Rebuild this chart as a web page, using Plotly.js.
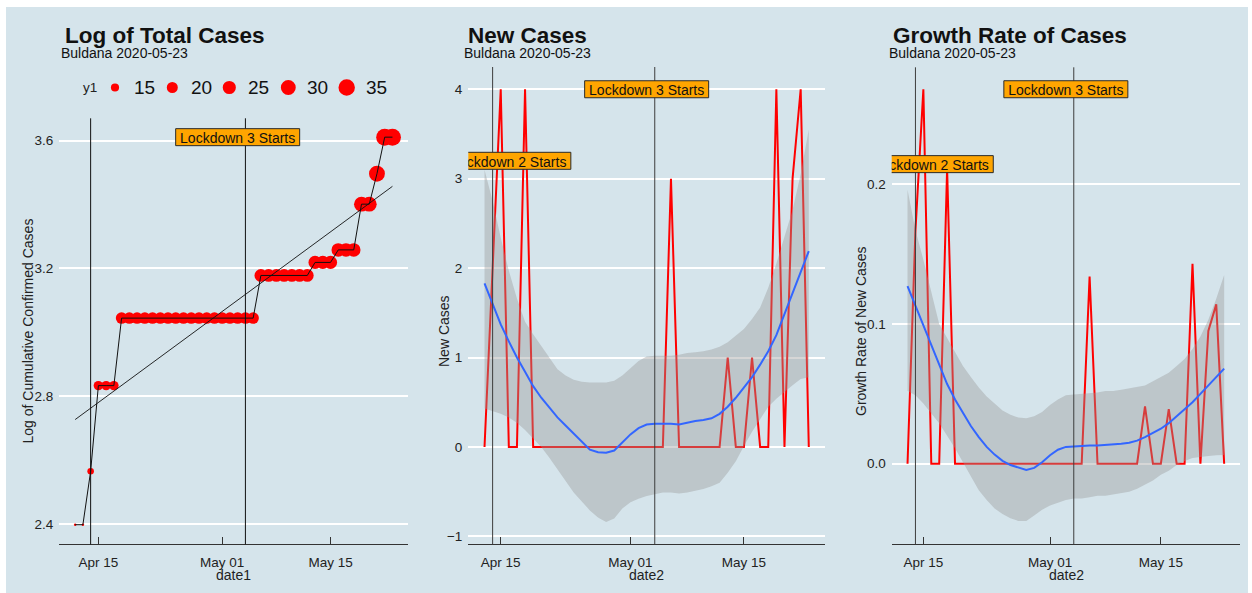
<!DOCTYPE html>
<html>
<head>
<meta charset="utf-8">
<script src="https://cdn.plot.ly/plotly-3.0.1.min.js"></script>
<style>
  html, body { margin: 0; padding: 0; background: #ffffff; }
  #chart { width: 1252px; height: 593px; }
</style>
</head>
<body>
<div id="chart"></div>
<script>
// ---- Buldana district, COVID-19, reported up to 2020-05-23 ----

// Cumulative confirmed cases (y1), one value per day from 2020-04-12
const totalDates = [
  '2020-04-12','2020-04-13','2020-04-14','2020-04-15','2020-04-16','2020-04-17','2020-04-18',
  '2020-04-19','2020-04-20','2020-04-21','2020-04-22','2020-04-23','2020-04-24','2020-04-25',
  '2020-04-26','2020-04-27','2020-04-28','2020-04-29','2020-04-30','2020-05-01','2020-05-02',
  '2020-05-03','2020-05-04','2020-05-05','2020-05-06','2020-05-07','2020-05-08','2020-05-09',
  '2020-05-10','2020-05-11','2020-05-12','2020-05-13','2020-05-14','2020-05-15','2020-05-16',
  '2020-05-17','2020-05-18','2020-05-19','2020-05-20','2020-05-21','2020-05-22','2020-05-23'
];
const totalCases = [
  11, 11, 13, 17, 17, 17, 21,
  21, 21, 21, 21, 21, 21, 21,
  21, 21, 21, 21, 21, 21, 21,
  21, 21, 21, 24, 24, 24, 24,
  24, 24, 24, 25, 25, 25, 26,
  26, 26, 30, 30, 33, 37, 37
];

// Daily series (date2), from 2020-04-13
const dailyDates = totalDates.slice(1);
const newCases = [
  0, 2, 4, 0, 0, 4,
  0, 0, 0, 0, 0, 0, 0, 0, 0, 0, 0, 0, 0, 0, 0, 0, 0,
  3, 0, 0, 0, 0, 0, 0,
  1, 0, 0, 1, 0, 0, 4, 0, 3, 4, 0
];
const growthRate = [
  0, 0.167, 0.268, 0, 0, 0.211,
  0, 0, 0, 0, 0, 0, 0, 0, 0, 0, 0, 0, 0, 0, 0, 0, 0,
  0.134, 0, 0, 0, 0, 0, 0,
  0.041, 0, 0, 0.039, 0, 0, 0.143, 0, 0.095, 0.114, 0
];

// Loess fit of new cases, with its confidence band
const newFit = [
  1.83, 1.60, 1.37, 1.18, 1.00, 0.84, 0.68, 0.55, 0.44, 0.33,
  0.24, 0.15, 0.05, -0.03, -0.06, -0.065, -0.04, 0.05, 0.14, 0.21,
  0.25, 0.26, 0.26, 0.26, 0.25, 0.27, 0.29, 0.30, 0.32, 0.37,
  0.45, 0.55, 0.66, 0.78, 0.92, 1.07, 1.25, 1.48, 1.72, 1.96, 2.19
];
const newUpper = [
  3.10, 2.75, 2.34, 1.97, 1.66, 1.40, 1.26, 1.13, 0.99, 0.87,
  0.80, 0.75, 0.73, 0.72, 0.72, 0.72, 0.74, 0.80, 0.88, 0.96,
  1.01, 1.02, 1.02, 1.02, 1.03, 1.05, 1.06, 1.07, 1.09, 1.12,
  1.17, 1.24, 1.32, 1.43, 1.56, 1.78, 2.05, 2.35, 2.65, 3.05, 3.55
];
const newLower = [
  0.43, 0.40, 0.37, 0.33, 0.27, 0.19, 0.10, 0.00, -0.12, -0.25,
  -0.38, -0.51, -0.61, -0.71, -0.79, -0.84, -0.80, -0.69, -0.62, -0.58,
  -0.55, -0.53, -0.51, -0.51, -0.52, -0.51, -0.49, -0.47, -0.44, -0.40,
  -0.29, -0.16, 0.01, 0.17, 0.31, 0.45, 0.54, 0.62, 0.69, 0.76, 0.78
];

// Loess fit of the growth rate, with its confidence band
const rateFit = [
  0.127, 0.113, 0.099, 0.085, 0.070, 0.057, 0.046, 0.036, 0.027, 0.019,
  0.012, 0.0065, 0.002, -0.001, -0.003, -0.0045, -0.003, 0.001, 0.006, 0.010,
  0.012, 0.0125, 0.0126, 0.013, 0.013, 0.0133, 0.0138, 0.0143, 0.015, 0.0165,
  0.019, 0.022, 0.025, 0.029, 0.034, 0.039, 0.044, 0.050, 0.056, 0.062, 0.068
];
const rateUpper = [
  0.196, 0.167, 0.146, 0.124, 0.100, 0.090, 0.080, 0.070, 0.062, 0.0545,
  0.048, 0.043, 0.038, 0.035, 0.033, 0.0325, 0.034, 0.037, 0.042, 0.046,
  0.049, 0.0495, 0.050, 0.050, 0.051, 0.052, 0.052, 0.053, 0.054, 0.055,
  0.056, 0.059, 0.062, 0.065, 0.070, 0.075, 0.082, 0.091, 0.103, 0.118, 0.135
];
const rateLower = [
  0.052, 0.049, 0.043, 0.036, 0.029, 0.020, 0.011, 0.001, -0.009, -0.019,
  -0.026, -0.032, -0.036, -0.039, -0.041, -0.041, -0.037, -0.033, -0.030, -0.028,
  -0.026, -0.025, -0.025, -0.024, -0.023, -0.023, -0.022, -0.021, -0.020, -0.018,
  -0.015, -0.012, -0.008, -0.005, -0.001, 0.002, 0.004, 0.005, 0.0055, 0.006, 0.0062
];

// Straight-line trend through the log of total cases (end points)
const trendDates = ['2020-04-12', '2020-05-23'];
const trendLog = [2.727, 3.457];

// Lockdown events
const lockdownDates = ['2020-04-14', '2020-05-04'];
const lockdown2LabelDate = '2020-04-16';
const lockdown3LabelDate = '2020-05-03';

// Axis ticks
const dateTicks = ['2020-04-15', '2020-05-01', '2020-05-15'];
const dateTickText = ['Apr 15', 'May 01', 'May 15'];
const logTicks = [2.4, 2.8, 3.2, 3.6];
const newTicks = [-1, 0, 1, 2, 3, 4];
const rateTicks = [0.0, 0.1, 0.2];
const sizeLegendValues = [15, 20, 25, 30, 35];

// ---- drawing ----
const W = 1252, H = 593;
const FONT = 'Liberation Sans, Arial, Helvetica, sans-serif';
const BG = '#d5e4eb';
const TXT = '#222222';
const DAY = 86400000;

const logTotal = totalCases.map(v => Math.log(v));
const sizeMin = Math.min(...totalCases), sizeMax = Math.max(...totalCases);
// area-style size scale for the points
const sizeOf = v => 2.5 + 14.5 * Math.sqrt(Math.max(0, v - sizeMin) / (sizeMax - sizeMin));

const px = x => x / W;
const py = y => 1 - y / H;
const ms = d => new Date(d.replace(' ', 'T') + (d.length > 10 ? ':00Z' : 'T00:00:00Z')).getTime();

// panel frames in page pixels, with their data ranges
const panels = {
  p1: { xa: 'x',  ya: 'y',  left: 59.3,  right: 408.3, top: 118.3, bottom: 544.3,
        xr: ['2020-04-09 22:48', '2020-05-25 01:12'], yr: [2.3365, 3.670] },
  p2: { xa: 'x2', ya: 'y2', left: 468.3, right: 825,   top: 67,    bottom: 544.3,
        xr: ['2020-04-11', '2020-05-25'], yr: [-1.089, 4.249] },
  p3: { xa: 'x3', ya: 'y3', left: 891.7, right: 1240,  top: 67.3,  bottom: 544.3,
        xr: ['2020-04-11', '2020-05-25'], yr: [-0.0577, 0.2837] }
};

function xAxis(p) {
  return {
    type: 'date', domain: [px(p.left), px(p.right)], range: p.xr, anchor: p.ya,
    tickvals: dateTicks, ticktext: dateTickText,
    showgrid: false, zeroline: false,
    showline: true, linecolor: '#333333', linewidth: 1,
    ticks: 'inside', ticklen: 7, tickwidth: 1, tickcolor: '#333333',
    ticklabelstandoff: 5,
    tickfont: { family: FONT, size: 13.5, color: TXT },
    fixedrange: true
  };
}
function yAxis(p, ticks, fmt) {
  return {
    domain: [py(p.bottom), py(p.top)], range: p.yr, anchor: p.xa,
    tickvals: ticks, tickformat: fmt,
    showgrid: true, gridcolor: '#ffffff', gridwidth: 2,
    zeroline: false, showline: false, ticks: '',
    ticklabelstandoff: 5,
    tickfont: { family: FONT, size: 13.5, color: TXT },
    fixedrange: true
  };
}

const traces = [];

// Panel 1: log of total cases
traces.push({
  type: 'scatter', mode: 'markers', x: totalDates, y: logTotal,
  xaxis: 'x', yaxis: 'y',
  marker: { color: '#ff0000', opacity: 1, size: totalCases.map(sizeOf), line: { width: 0 } },
  hoverinfo: 'skip', showlegend: false
});
traces.push({
  type: 'scatter', mode: 'lines', x: totalDates, y: logTotal,
  xaxis: 'x', yaxis: 'y', line: { color: '#111111', width: 1 },
  hoverinfo: 'skip', showlegend: false
});
traces.push({
  type: 'scatter', mode: 'lines', x: trendDates, y: trendLog,
  xaxis: 'x', yaxis: 'y', line: { color: '#111111', width: 0.9 },
  hoverinfo: 'skip', showlegend: false
});

// Panels 2 and 3: daily series, band and fit
function dailyPanel(xa, ya, values, upper, lower, fit) {
  traces.push({
    type: 'scatter', mode: 'lines', x: dailyDates, y: values,
    xaxis: xa, yaxis: ya, line: { color: '#ff0000', width: 2 },
    hoverinfo: 'skip', showlegend: false
  });
  traces.push({
    type: 'scatter', mode: 'lines', x: dailyDates, y: upper,
    xaxis: xa, yaxis: ya, line: { width: 0, color: 'rgba(0,0,0,0)' },
    hoverinfo: 'skip', showlegend: false
  });
  traces.push({
    type: 'scatter', mode: 'lines', x: dailyDates, y: lower,
    xaxis: xa, yaxis: ya, line: { width: 0, color: 'rgba(0,0,0,0)' },
    fill: 'tonexty', fillcolor: 'rgba(153,153,153,0.4)',
    hoverinfo: 'skip', showlegend: false
  });
  traces.push({
    type: 'scatter', mode: 'lines', x: dailyDates, y: fit,
    xaxis: xa, yaxis: ya, line: { color: '#3366ff', width: 2 },
    hoverinfo: 'skip', showlegend: false
  });
}
dailyPanel('x2', 'y2', newCases, newUpper, newLower, newFit);
dailyPanel('x3', 'y3', growthRate, rateUpper, rateLower, rateFit);

// ---- shapes: page border, lockdown lines, labels, size legend ----
const shapes = [
  { type: 'rect', xref: 'paper', yref: 'paper', x0: 0, x1: px(6), y0: 0, y1: 1,
    fillcolor: '#ffffff', line: { width: 0 }, layer: 'below' },
  { type: 'rect', xref: 'paper', yref: 'paper', x0: px(1248), x1: 1, y0: 0, y1: 1,
    fillcolor: '#ffffff', line: { width: 0 }, layer: 'below' },
  { type: 'rect', xref: 'paper', yref: 'paper', x0: 0, x1: 1, y0: py(7), y1: 1,
    fillcolor: '#ffffff', line: { width: 0 }, layer: 'below' }
];

[['p1', '#111111'], ['p2', '#3d3d3d'], ['p3', '#3d3d3d']].forEach(([k, col]) => {
  const p = panels[k];
  lockdownDates.forEach(d => {
    shapes.push({ type: 'line', xref: p.xa, yref: p.ya + ' domain', x0: d, x1: d, y0: 0, y1: 1,
      line: { color: col, width: 1 }, layer: 'above' });
  });
});

// label box of 124 x 17 px, placed in the panel's data units so it is clipped with the panel
function labelBox(k, x, y, text) {
  const p = panels[k];
  const msPerPx = (ms(p.xr[1]) - ms(p.xr[0])) / (p.right - p.left);
  const unitPerPx = (p.yr[1] - p.yr[0]) / (p.bottom - p.top);
  const cx = ms(x);
  return {
    type: 'rect', xref: p.xa, yref: p.ya,
    x0: cx - 62 * msPerPx, x1: cx + 62 * msPerPx,
    y0: y - 8.5 * unitPerPx, y1: y + 8.5 * unitPerPx,
    fillcolor: '#ffa500', line: { color: '#2a2a2a', width: 1 }, layer: 'above',
    label: { text: text, textposition: 'middle center', padding: 0,
             font: { family: FONT, size: 14, color: '#111111' } }
  };
}
shapes.push(labelBox('p1', lockdown3LabelDate, Math.max(...logTotal), 'Lockdown 3 Starts'));
shapes.push(labelBox('p2', lockdown2LabelDate, 0.8 * Math.max(...newCases), 'Lockdown 2 Starts'));
shapes.push(labelBox('p2', lockdown3LabelDate, Math.max(...newCases), 'Lockdown 3 Starts'));
shapes.push(labelBox('p3', lockdown2LabelDate, 0.8 * Math.max(...growthRate), 'Lockdown 2 Starts'));
shapes.push(labelBox('p3', lockdown3LabelDate, Math.max(...growthRate), 'Lockdown 3 Starts'));

// size legend for y1
const legendY = 87.5;
const legendDotX = [115, 172.3, 229.3, 288.3, 346.7];
const annotations = [];
sizeLegendValues.forEach((v, k) => {
  const r = sizeOf(v) / 2;
  shapes.push({ type: 'circle', xref: 'paper', yref: 'paper',
    xsizemode: 'pixel', ysizemode: 'pixel', xanchor: px(legendDotX[k]), yanchor: py(legendY),
    x0: -r, x1: r, y0: -r, y1: r, fillcolor: '#ff0000', line: { width: 0 } });
  annotations.push({ xref: 'paper', yref: 'paper', x: px(legendDotX[k] + 17), y: py(legendY),
    xanchor: 'left', yanchor: 'middle', showarrow: false, text: String(v),
    font: { family: FONT, size: 19, color: '#111111' } });
});
annotations.push({ xref: 'paper', yref: 'paper', x: px(81), y: py(legendY), xanchor: 'left',
  yanchor: 'middle', showarrow: false, text: 'y1', font: { family: FONT, size: 13.5, color: TXT } });

// titles and subtitles
function title(x, text) {
  annotations.push({ xref: 'paper', yref: 'paper', x: px(x), y: py(35.5), xanchor: 'left',
    yanchor: 'middle', showarrow: false, text: '<b>' + text + '</b>',
    font: { family: FONT, size: 22.5, color: '#111111' } });
  annotations.push({ xref: 'paper', yref: 'paper', x: px(x - 4), y: py(53), xanchor: 'left',
    yanchor: 'middle', showarrow: false, text: 'Buldana 2020-05-23',
    font: { family: FONT, size: 14, color: '#111111' } });
}
title(63, 'Log of Total Cases');
title(466, 'New Cases');
title(891, 'Growth Rate of Cases');

// axis titles
function yTitle(x, text) {
  annotations.push({ xref: 'paper', yref: 'paper', x: px(x), y: py(331), textangle: -90,
    xanchor: 'center', yanchor: 'middle', showarrow: false, text: text,
    font: { family: FONT, size: 14, color: TXT } });
}
function xTitle(x, text) {
  annotations.push({ xref: 'paper', yref: 'paper', x: px(x), y: py(575), xanchor: 'center',
    yanchor: 'middle', showarrow: false, text: text,
    font: { family: FONT, size: 14, color: TXT } });
}
yTitle(27.5, 'Log of Cumulative Confirmed Cases');
yTitle(444, 'New Cases');
yTitle(861, 'Growth Rate of New Cases');
xTitle(233.8, 'date1');
xTitle(646.7, 'date2');
xTitle(1066, 'date2');

const layout = {
  width: W, height: H,
  margin: { l: 0, r: 0, t: 0, b: 0, pad: 0 },
  paper_bgcolor: BG, plot_bgcolor: BG,
  showlegend: false,
  font: { family: FONT, color: TXT },
  xaxis: xAxis(panels.p1),
  yaxis: yAxis(panels.p1, logTicks, '.1f'),
  xaxis2: xAxis(panels.p2),
  yaxis2: yAxis(panels.p2, newTicks, 'd'),
  xaxis3: xAxis(panels.p3),
  yaxis3: yAxis(panels.p3, rateTicks, '.1f'),
  shapes: shapes,
  annotations: annotations
};

Plotly.newPlot('chart', traces, layout, { staticPlot: true, displayModeBar: false });
</script>
</body>
</html>
